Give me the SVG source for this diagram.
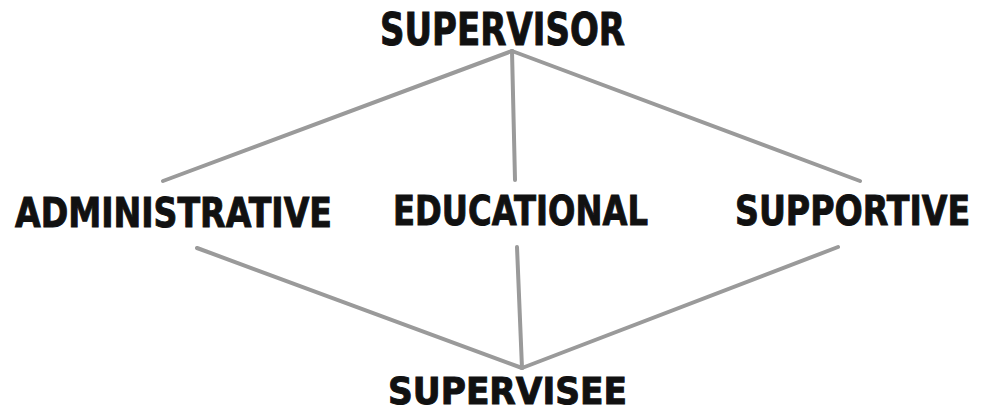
<svg xmlns="http://www.w3.org/2000/svg" width="982" height="413" viewBox="0 0 982 413">
<style>
.lbl{font-family:"DejaVu Sans","Liberation Sans",sans-serif;font-weight:bold;fill:#111;stroke:#111;stroke-width:1;}
.con line{stroke:#9a9a9a;stroke-width:4;stroke-linecap:round;}
</style>
<rect width="982" height="413" fill="#ffffff"/>
<g id="connectors" class="con">
<line x1="512" y1="51" x2="163" y2="181"/>
<line x1="512" y1="51" x2="515" y2="180"/>
<line x1="512" y1="51" x2="860" y2="181"/>
<line x1="197" y1="248" x2="522" y2="368"/>
<line x1="517" y1="247" x2="522" y2="368"/>
<line x1="838" y1="247" x2="522" y2="368"/>
</g>
<g id="supervisor"><text class="lbl" x="380" y="45" font-size="44" textLength="245" lengthAdjust="spacingAndGlyphs">SUPERVISOR</text></g>
<g id="administrative"><text class="lbl" x="15" y="227" font-size="40" textLength="317" lengthAdjust="spacingAndGlyphs">ADMINISTRATIVE</text></g>
<g id="educational"><text class="lbl" x="393" y="225" font-size="41" textLength="255" lengthAdjust="spacingAndGlyphs">EDUCATIONAL</text></g>
<g id="supportive"><text class="lbl" transform="translate(735 225) scale(0.81 1)" x="0" y="0" font-size="41">SUPPORTIVE</text></g>
<g id="supervisee"><text class="lbl" x="388" y="404" font-size="37" textLength="239" lengthAdjust="spacingAndGlyphs">SUPERVISEE</text></g>
</svg>
